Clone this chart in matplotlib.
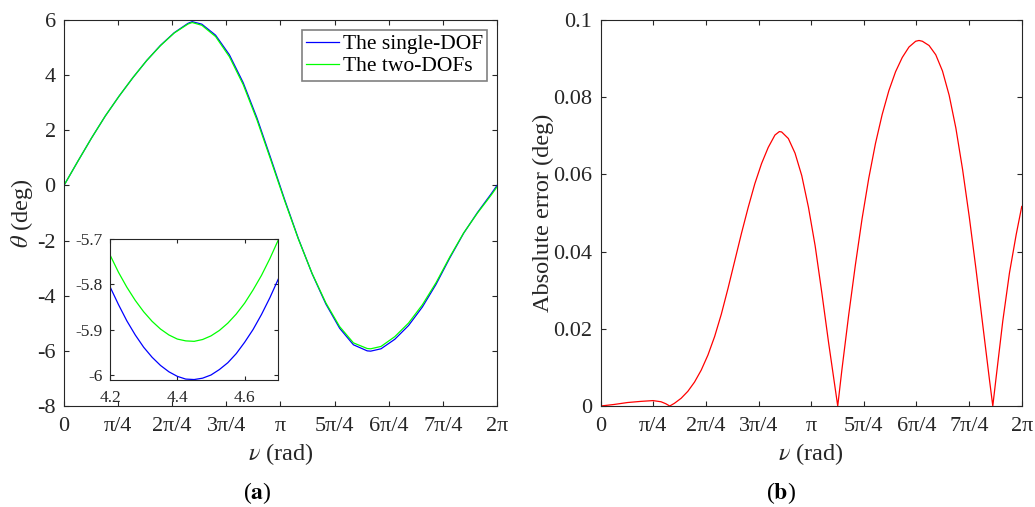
import matplotlib
matplotlib.use("Agg")
import matplotlib.pyplot as plt
import numpy as np

# ------------------------------------------------------------------
# data
# ------------------------------------------------------------------
# (a) pitch angle theta (deg) against true anomaly nu (rad)
nu = [0.0, 0.2, 0.4, 0.6, 0.8, 1.0, 1.2, 1.4, 1.6, 1.8, 1.86, 2.0, 2.2, 2.4,
      2.6, 2.8, 3.0, 3.2, 3.4, 3.6, 3.8, 4.0, 4.2, 4.4, 4.45, 4.6, 4.8, 5.0,
      5.2, 5.4, 5.6, 5.8, 6.0, 6.2, 6.2832]
theta_single = [0.00, 0.87, 1.72, 2.52, 3.24, 3.91, 4.53, 5.08, 5.54, 5.88,
                5.94, 5.85, 5.45, 4.74, 3.73, 2.45, 0.99, -0.50, -1.92, -3.20,
                -4.30, -5.18, -5.78, -6.00, -6.01, -5.925, -5.58, -5.08, -4.41,
                -3.58, -2.62, -1.73, -0.98, -0.30, 0.00]
theta_two = [0.00, 0.87, 1.72, 2.52, 3.24, 3.91, 4.53, 5.07, 5.53, 5.855,
             5.91, 5.81, 5.40, 4.67, 3.66, 2.38, 0.93, -0.54, -1.94, -3.19,
             -4.26, -5.12, -5.71, -5.915, -5.925, -5.84, -5.485, -4.99, -4.33,
             -3.52, -2.585, -1.72, -1.00, -0.345, -0.05]

# inset (zoom around the minimum)
nu_zoom = [4.200, 4.225, 4.250, 4.275, 4.300, 4.325, 4.350, 4.375, 4.400,
           4.425, 4.450, 4.475, 4.500, 4.525, 4.550, 4.575, 4.600, 4.625,
           4.650, 4.675, 4.700]
single_zoom = [-5.805, -5.844, -5.880, -5.911, -5.938, -5.960, -5.978, -5.992,
               -6.002, -6.008, -6.009, -6.006, -5.999, -5.987, -5.972, -5.952,
               -5.927, -5.899, -5.866, -5.829, -5.788]
two_zoom = [-5.735, -5.773, -5.806, -5.835, -5.860, -5.881, -5.898, -5.911,
            -5.920, -5.924, -5.925, -5.921, -5.913, -5.901, -5.885, -5.865,
            -5.841, -5.812, -5.780, -5.743, -5.702]

# (b) absolute error (deg)
nu_err = [0.0, 0.2, 0.4, 0.6, 0.78, 0.9, 0.97, 1.03,
          1.1, 1.2, 1.3, 1.4, 1.5, 1.6, 1.7, 1.8, 1.9, 2.0, 2.1, 2.2, 2.3,
          2.4, 2.5, 2.6, 2.666, 2.7, 2.8, 2.9, 3.0, 3.1, 3.2, 3.3, 3.4, 3.537,
          3.6, 3.7, 3.8, 3.9, 4.0, 4.1, 4.2, 4.3, 4.4, 4.5, 4.6, 4.7, 4.75,
          4.8, 4.9, 5.0, 5.1, 5.2, 5.3, 5.4, 5.5, 5.6, 5.7, 5.8, 5.851,
          5.9, 6.0, 6.1, 6.2, 6.2832]
abs_err = [0.0, 0.0004, 0.0009, 0.0012, 0.0014, 0.0011, 0.0006, 0.0,
           0.0007, 0.0020, 0.0038, 0.0062, 0.0093, 0.0132, 0.0180, 0.0238,
           0.0305, 0.0376, 0.0447, 0.0514, 0.0576,
           0.0628, 0.0670, 0.0702, 0.0711, 0.0710, 0.0693, 0.0655, 0.0597,
           0.0515, 0.0415, 0.0293, 0.0165, 0.0,
           0.0095, 0.0235, 0.0365, 0.0485, 0.0590, 0.0680, 0.0755, 0.0817,
           0.0866, 0.0903, 0.0930, 0.0945, 0.0947,
           0.0945, 0.0934, 0.0910, 0.0868, 0.0805, 0.0720, 0.0613, 0.0490,
           0.0355, 0.0212, 0.0070, 0.0,
           0.0073, 0.0220, 0.0345, 0.0444, 0.0517]

pi_ticks = np.arange(9) * np.pi / 4
pi_labels = ["0", "π/4", "2π/4", "3π/4", "π", "5π/4", "6π/4", "7π/4", "2π"]

# ------------------------------------------------------------------
# style
# ------------------------------------------------------------------
plt.rcParams["font.family"] = ["Liberation Serif", "DejaVu Serif"]
plt.rcParams["mathtext.fontset"] = "stix"
plt.rcParams["axes.unicode_minus"] = False
plt.rcParams["axes.edgecolor"] = "#262626"
plt.rcParams["axes.linewidth"] = 0.8
plt.rcParams["xtick.color"] = "#262626"
plt.rcParams["ytick.color"] = "#262626"

FS_TICK = 16
FS_LABEL = 17.5
FS_LEG = 15.5
DARK = "#262626"


def style_axes(ax, size=FS_TICK, length=3.8, xpad=8, ypad=6):
    ax.tick_params(direction="in", top=True, right=True, length=length,
                   width=0.8, labelsize=size, labelcolor=DARK)
    ax.tick_params(axis="x", pad=xpad)
    ax.tick_params(axis="y", pad=ypad)


fig = plt.figure(figsize=(10.35, 5.07), dpi=100)

# ------------------------------------------------------------------
# (a) theta vs nu
# ------------------------------------------------------------------
ax1 = fig.add_axes([0.0618, 0.1992, 0.4184, 0.7613])
ax1.plot(nu, theta_single, color="#0000ff", lw=0.9, label="The single-DOF")
ax1.plot(nu, theta_two, color="#00ff00", lw=0.9, label="The two-DOFs")
ax1.set_xlim(0, 2 * np.pi)
ax1.set_ylim(-8, 6)
ax1.set_xticks(pi_ticks)
ax1.set_xticklabels(pi_labels)
ax1.set_yticks(np.arange(-8, 7, 2))
style_axes(ax1)
ax1.set_xlabel(r"$\nu$ (rad)", fontsize=FS_LABEL, color=DARK)
ax1.xaxis.set_label_coords(0.5, -0.09)
ax1.set_ylabel(r"$\theta$ (deg)", fontsize=FS_LABEL, color=DARK)
ax1.yaxis.set_label_coords(-0.068, 0.5)
leg = ax1.legend(loc="upper right", fontsize=FS_LEG, fancybox=False,
                 handlelength=1.5, handletextpad=0.2, borderaxespad=0.45,
                 borderpad=0.2, labelspacing=0.1, framealpha=1)
leg.get_frame().set_edgecolor("#808080")
leg.get_frame().set_linewidth(1.2)

# inset
axin = fig.add_axes([0.1063, 0.2505, 0.1626, 0.2781])
axin.plot(nu_zoom, single_zoom, color="#0000ff", lw=0.9)
axin.plot(nu_zoom, two_zoom, color="#00ff00", lw=0.9)
axin.set_xlim(4.2, 4.7)
axin.set_ylim(-6.01, -5.7)
axin.set_xticks([4.2, 4.4, 4.6])
axin.set_yticks([-6, -5.9, -5.8, -5.7])
axin.set_yticklabels(["-6", "-5.9", "-5.8", "-5.7"])
style_axes(axin, size=12.5, length=3, xpad=7.5, ypad=5)

fig.text(0.249, 0.027, r"($\mathbf{a}$)", ha="center", va="center",
         fontsize=17)

# ------------------------------------------------------------------
# (b) absolute error
# ------------------------------------------------------------------
ax2 = fig.add_axes([0.5804, 0.1992, 0.4068, 0.7613])
ax2.plot(nu_err, abs_err, color="#ff0000", lw=0.9)
ax2.set_xlim(0, 2 * np.pi)
ax2.set_ylim(0, 0.1)
ax2.set_xticks(pi_ticks)
ax2.set_xticklabels(pi_labels)
ax2.set_yticks([0, 0.02, 0.04, 0.06, 0.08, 0.1])
ax2.set_yticklabels(["0", "0.02", "0.04", "0.06", "0.08", "0.1"])
style_axes(ax2)
ax2.set_xlabel(r"$\nu$ (rad)", fontsize=FS_LABEL, color=DARK)
ax2.xaxis.set_label_coords(0.5, -0.09)
ax2.set_ylabel("Absolute error (deg)", fontsize=FS_LABEL, color=DARK)
ax2.yaxis.set_label_coords(-0.111, 0.5)

fig.text(0.755, 0.027, r"($\mathbf{b}$)", ha="center", va="center",
         fontsize=17)

fig.savefig("out.png", dpi=100)
